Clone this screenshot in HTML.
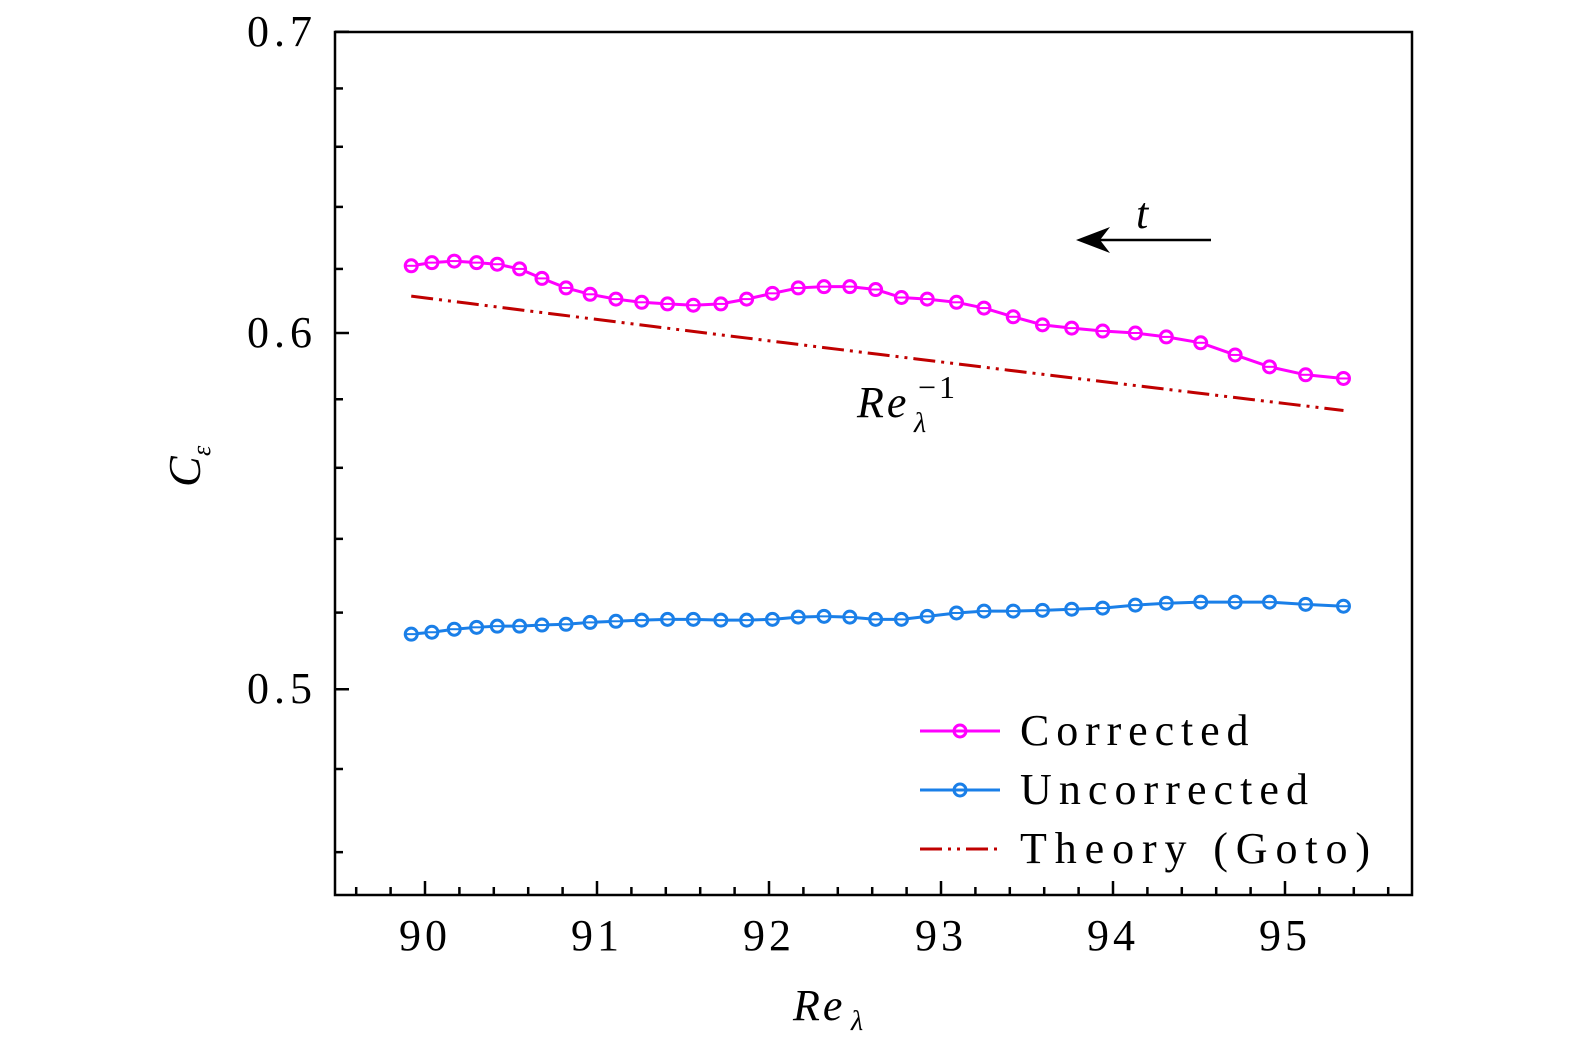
<!DOCTYPE html>
<html><head><meta charset="utf-8"><style>
html,body{margin:0;padding:0;background:#fff;overflow:hidden;}
svg{display:block;font-family:"Liberation Serif",serif;}
</style></head><body>
<svg id="chart" width="1575" height="1053" viewBox="0 0 1575 1053">
<g id="axes"></g>
<g id="series"></g>
<g>
<text x="857" y="417" font-size="44" font-style="italic" letter-spacing="3">Re</text>
<text x="914" y="432" font-size="28" font-style="italic">λ</text>
<text x="918" y="398" font-size="32" letter-spacing="3">−1</text>
</g>
<g>
<line x1="1211" y1="240" x2="1095" y2="240" stroke="#000" stroke-width="2.5"/>
<path d="M1076,240 L1110,227 L1100,240 L1110,253 Z" fill="#000"/>
<text x="1136" y="228" font-size="44" font-style="italic">t</text>
</g>
<g>
<g>
<line x1="920" y1="731" x2="1000" y2="731" stroke="#ff00ff" stroke-width="3"/>
<circle cx="960" cy="731" r="6" fill="none" stroke="#ff00ff" stroke-width="3"/>
<text x="1020" y="745" font-size="44" letter-spacing="4.5" textLength="233" lengthAdjust="spacing">Corrected</text></g>
<g>
<line x1="920" y1="790" x2="1000" y2="790" stroke="#1a7fe8" stroke-width="3"/>
<circle cx="960" cy="790" r="6" fill="none" stroke="#1a7fe8" stroke-width="3"/>
<text x="1020" y="804" font-size="44" textLength="288" lengthAdjust="spacing">Uncorrected</text></g>
<g>
<line x1="920" y1="849" x2="1000" y2="849" stroke="#c00000" stroke-width="3" stroke-dasharray="22,6,3,6,3,6"/>
<text x="1020" y="863" font-size="44" textLength="350" lengthAdjust="spacing">Theory (Goto)</text></g>
</g>
<g>
<text x="793" y="1020" font-size="44" font-style="italic" letter-spacing="3">Re</text>
<text x="851" y="1030" font-size="28" font-style="italic">λ</text>
</g>
<g transform="translate(200,465) rotate(-90)">
<text x="-22" y="0" font-size="46" font-style="italic">C</text>
<text x="9" y="10" font-size="26" font-style="italic">ε</text>
</g>
</svg>
<script>
const xs = [89.92,90.04,90.17,90.30,90.42,90.55,90.68,90.82,90.96,91.11,91.26,91.41,91.56,91.72,91.87,92.02,92.17,92.32,92.47,92.62,92.77,92.92,93.09,93.25,93.42,93.59,93.76,93.94,94.13,94.31,94.51,94.71,94.91,95.12,95.34];
const corrected = [0.621,0.622,0.6225,0.622,0.6215,0.620,0.617,0.614,0.612,0.6105,0.6095,0.609,0.6086,0.609,0.6105,0.6123,0.614,0.6144,0.6144,0.6135,0.611,0.6105,0.6095,0.6077,0.605,0.6025,0.6015,0.6006,0.600,0.5988,0.597,0.5933,0.5897,0.5873,0.5862];
const uncorrected = [0.5143,0.5148,0.5156,0.5161,0.5164,0.5164,0.5167,0.5169,0.5174,0.5177,0.5180,0.5182,0.5182,0.5180,0.5180,0.5182,0.5188,0.5190,0.5188,0.5182,0.5182,0.5190,0.5199,0.5204,0.5204,0.5206,0.5209,0.5212,0.5220,0.5225,0.5228,0.5228,0.5228,0.5222,0.5217];
const theoryK = [54.98];
const theoryRange = [89.92,95.34];
const xTicks = [90,91,92,93,94,95];
const yTicks = [0.5,0.6,0.7];
const yMinor = [0.46,0.48,0.52,0.54,0.56,0.58,0.62,0.64,0.66,0.68];

const NS="http://www.w3.org/2000/svg";
const L=335,R=1412,T=32,B=895;
function X(v){return 425+(v-90)*172;}
function Y(v){return 333-(Math.log10(v)-Math.log10(0.6))*4499;}
function mk(tag,attrs,parent){const e=document.createElementNS(NS,tag);for(const k in attrs)e.setAttribute(k,attrs[k]);parent.appendChild(e);return e;}
const axes=document.getElementById('axes');
const frame=mk('rect',{x:L,y:T,width:R-L,height:B-T,fill:'none',stroke:'#000','stroke-width':2.5},axes);


for(let v=89.6;v<95.75;v+=0.2){
  const vr=Math.round(v*10)/10;
  const major=xTicks.includes(vr);
  const t=mk('line',{x1:X(vr),x2:X(vr),y1:B,y2:B-(major?14:8),stroke:'#000','stroke-width':2.5},axes);
  
  
}
xTicks.forEach(v=>{
  const t=mk('text',{x:X(v),y:950,'font-size':44,'text-anchor':'middle','letter-spacing':4},axes);
  t.textContent=v;
  
  
});
yTicks.forEach(v=>{
  const l=mk('line',{x1:L,x2:L+14,y1:Y(v),y2:Y(v),stroke:'#000','stroke-width':2.5},axes);
  
  
  const t=mk('text',{x:247,y:Y(v)+14,'font-size':44,'textLength':65,'lengthAdjust':'spacing'},axes);
  t.textContent=v.toFixed(1);
  
  
});
yMinor.forEach(v=>{
  const l=mk('line',{x1:L,x2:L+8,y1:Y(v),y2:Y(v),stroke:'#000','stroke-width':2.5},axes);
  
  
});
const ser=document.getElementById('series');
const tp=[];for(let i=0;i<=50;i++){const x=theoryRange[0]+(theoryRange[1]-theoryRange[0])*i/50;tp.push(X(x)+','+Y(theoryK[0]/x));}
const th=mk('polyline',{points:tp.join(' '),fill:'none',stroke:'#c00000','stroke-width':3,'stroke-dasharray':'22,6,3,6,3,6'},ser);


function drawSeries(vals,color,name){
  const pl=mk('polyline',{points:xs.map((x,i)=>X(x)+','+Y(vals[i])).join(' '),fill:'none',stroke:color,'stroke-width':3},ser);
  
  
  xs.forEach((x,i)=>{
    const c=mk('circle',{cx:X(x),cy:Y(vals[i]),r:6,fill:'#fff',stroke:color,'stroke-width':3},ser);
    
    
    mk('line',{x1:X(x)-6,x2:X(x)+6,y1:Y(vals[i]),y2:Y(vals[i]),stroke:color,'stroke-width':2},ser);
  });
}
drawSeries(corrected,'#ff00ff','corrected');
drawSeries(uncorrected,'#1a7fe8','uncorrected');
</script>
</body></html>
